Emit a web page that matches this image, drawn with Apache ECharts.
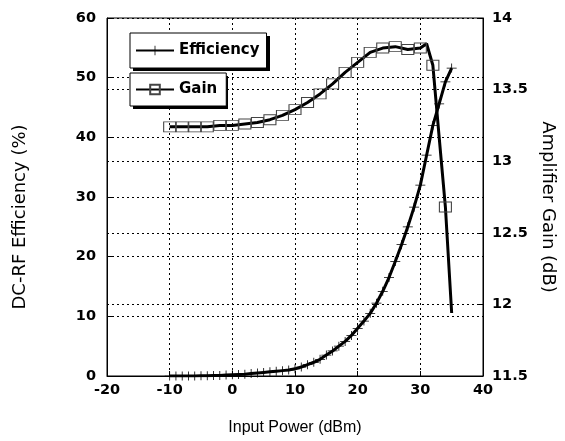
<!DOCTYPE html>
<html lang="en">
<head>
    <meta charset="UTF-8">
    <title>Efficiency and Gain</title>
    <script src="https://cdn.jsdelivr.net/npm/echarts@6/dist/echarts.min.js"></script>
    <style>
        *{
            padding:0;
            margin:0;
        }
        #main{
            width:565px;
            height:441px;
            background:#fff;
        }
    </style>
</head>
<body>
    <div id="main"></div>
    <script>
        // input power (dBm) and DC-RF efficiency (%), 1 dB steps
        var effPower=[-10,-9,-8,-7,-6,-5,-4,-3,-2,-1,0,1,2,3,4,5,6,7,8,9,10,11,12,13,14,15,16,17,18,19,20,21,22,23,24,25,26,27,28,29,30,31,32,33,34,35]
        var effValues=[0,0,0,0,0,0.05,0.05,0.1,0.1,0.15,0.2,0.25,0.3,0.4,0.5,0.6,0.7,0.8,0.9,1.0,1.2,1.5,1.9,2.3,2.8,3.5,4.2,5.0,5.8,6.8,8.0,9.2,10.5,12.2,14.2,16.5,19.2,22.0,25.0,28.3,32.0,37.0,42.0,45.6,49.3,51.6]
        // amplifier gain (dB); marked = square marker drawn
        var gainPower=[-10,-8,-6,-4,-2,0,2,4,6,8,10,12,14,16,18,20,22,24,26,28,30,31,32,33,34,35]
        var gainValues=[13.24,13.24,13.24,13.24,13.25,13.25,13.26,13.27,13.29,13.32,13.36,13.41,13.47,13.54,13.62,13.69,13.76,13.79,13.80,13.78,13.79,13.82,13.67,13.17,12.68,11.94]
        var gainMarked=[1,1,1,1,1,1,1,1,1,1,1,1,1,1,1,1,1,1,1,1,1,0,1,0,1,0]

        var font="Arial, 'Liberation Sans', sans-serif"
        var wide="'DejaVu Sans', sans-serif"
        var plus="path://M-0.08,-1H0.08V1H-0.08Z M-1,-0.08H1V0.08H-1Z"

        var effData=effPower.map(function(p,i){return [p,effValues[i]]})
        var gainData=gainPower.map(function(p,i){
            return {value:[p,gainValues[i]],symbol:gainMarked[i]?"rect":"none"}
        })

        var myCharts=echarts.init(document.getElementById("main"))
        var boxStyle={
            orient:"vertical",
            left:130,
            z:6,
            borderColor:"#000",
            borderWidth:1,
            borderRadius:0,
            backgroundColor:"#fff",
            itemWidth:38,
            itemHeight:12,
            textStyle:{color:"#000",fontSize:15,fontWeight:"bold",fontFamily:wide},
        }
        var tickLabel={color:"#000",fontSize:14.5,fontWeight:"bold",fontFamily:wide}
        var grid={show:true,lineStyle:{color:"#000",type:[2,3],width:1}}
        var option={
            animation:false,
            grid:{
                left:107,
                right:80,
                top:18,
                bottom:65,
                show:true,
                borderColor:"#000",
                borderWidth:1,
            },
            // drop shadows behind the two legend boxes
            graphic:[
                {type:"rect",z:5,shape:{x:133,y:36,width:137,height:35},style:{fill:"#000"}},
                {type:"rect",z:5,shape:{x:133,y:76,width:95,height:33},style:{fill:"#000"}},
            ],
            legend:[
                Object.assign({},boxStyle,{data:["Efficiency"],top:33,padding:[10,7,10,5]}),
                Object.assign({},boxStyle,{data:["Gain"],top:73,padding:[9,9,9,5]}),
            ],
            xAxis:{
                type:"value",
                min:-20,
                max:40,
                interval:10,
                name:"Input Power (dBm)",
                nameLocation:"middle",
                nameGap:44,
                nameTextStyle:{color:"#000",fontSize:16,fontFamily:font},
                axisLine:{lineStyle:{color:"#000"}},
                axisTick:{inside:true,length:5,lineStyle:{color:"#000"}},
                axisLabel:Object.assign({margin:7},tickLabel),
                splitLine:grid,
            },
            yAxis:[
                {
                    type:"value",
                    min:0,
                    max:60,
                    interval:10,
                    name:"DC-RF Efficiency (%)",
                    nameLocation:"middle",
                    nameGap:78,
                    nameTextStyle:{color:"#000",fontSize:18,fontFamily:wide,padding:[0,40,0,0]},
                    axisLine:{show:true,onZero:false,lineStyle:{color:"#000"}},
                    axisTick:{show:true,inside:true,length:5,lineStyle:{color:"#000"}},
                    axisLabel:Object.assign({margin:11},tickLabel),
                    splitLine:grid,
                },
                {
                    type:"value",
                    min:11.5,
                    max:14,
                    interval:0.5,
                    position:"right",
                    name:"Amplifier Gain (dB)",
                    nameLocation:"middle",
                    nameGap:56,
                    nameRotate:-90,
                    nameTextStyle:{color:"#000",fontSize:18,fontFamily:wide,padding:[0,0,0,20]},
                    axisLine:{show:true,onZero:false,lineStyle:{color:"#000"}},
                    axisTick:{show:true,inside:true,length:5,lineStyle:{color:"#000"}},
                    axisLabel:Object.assign({margin:9},tickLabel),
                    splitLine:grid,
                }
            ],
            series:[
                {
                    name:"Efficiency",
                    type:"line",
                    yAxisIndex:0,
                    data:effData,
                    symbol:plus,
                    symbolSize:[10,9],
                    showAllSymbol:true,
                    lineStyle:{color:"#000",width:3},
                    itemStyle:{color:"#000"},
                    z:3,
                },
                {
                    name:"Gain",
                    type:"line",
                    yAxisIndex:1,
                    data:gainData,
                    symbol:"rect",
                    symbolSize:[12,10],
                    showAllSymbol:true,
                    lineStyle:{color:"#000",width:3},
                    itemStyle:{color:"rgba(0,0,0,0)",borderColor:"#444",borderWidth:1},
                    z:3,
                },
            ]
        }
        myCharts.setOption(option)
    </script>
</body>
</html>
